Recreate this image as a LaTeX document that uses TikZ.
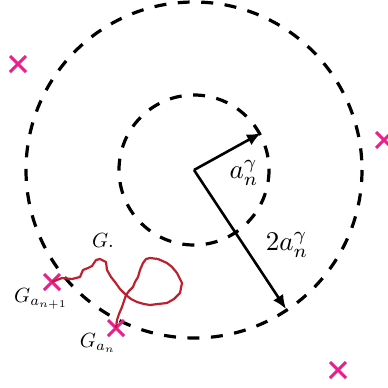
\documentclass[tikz,border=0pt]{standalone}
\usepackage{amsmath}
\usepackage{graphicx}
\usepackage{tikz}
\usetikzlibrary{arrows.meta,shapes.misc}
\definecolor{crossmag}{RGB}{232,32,140}
\definecolor{walkred}{RGB}{190,32,48}
\newcommand{\biglab}[1]{\scalebox{2.7}{#1}}
\newcommand{\glab}[1]{\scalebox{2.05}{#1}}

\begin{document}
\begin{tikzpicture}[
  x=1pt, y=-1pt,
  ring/.style={draw=black, line width=3.2pt, dash pattern=on 12pt off 11.5pt},
  rad/.style={-{Latex[length=14pt,width=12pt]}, line width=2.6pt},
  xmark/.style={cross out, draw=crossmag, line width=3pt, minimum size=13pt, inner sep=0pt},
  walk/.style={draw=walkred, line width=2.2pt, line join=round},
]
\useasboundingbox (0,0) rectangle (388,388);

\coordinate (c) at (194,170);
\draw[ring] (c) circle (75);
\draw[ring] (c) circle (168);

% radii
\coordinate (p1) at (261,133);
\coordinate (p2) at (286,309);
\draw[rad] (c) -- (p1);
\draw[rad] (c) -- (p2);
\node (r1) at (244,173) {\biglab{$a_n^\gamma$}};
\node (r2) at (287,245) {\biglab{$2a_n^\gamma$}};

% points
\node[xmark] (x1) at (18,64) {};
\node[xmark] (x2) at (384,140) {};
\node[xmark] (x3) at (52,282) {};
\node[xmark] (x4) at (116,328) {};
\node[xmark] (x5) at (338,370) {};

% the walk
\draw[walk] (x3.center) -- (62,278) -- (72,279) -- (80,277) -- (83,270) -- (88,268)
  -- (92,266) -- (96,260) -- (100,259) -- (106,262) -- (107,270) -- (111,277)
  -- (115,282) -- (120,289) -- (126,295) -- (131,299) -- (137,302) -- (144,304)
  -- (150,305) -- (158,304) -- (167,303) -- (174,299) -- (180,293) -- (181,288)
  -- (182,283) -- (179,277) -- (177,273) -- (172,267) -- (167,263) -- (158,259)
  -- (150,258) -- (146,259) -- (143,263) -- (140,270) -- (138,277) -- (135,282)
  -- (133,287) -- (129,291) -- (126,295) -- (124,301) -- (122,307) -- (119,314)
  -- (117,320) -- (x4.center);

\node (g) at (103,240) {\glab{$G.$}};
\node (g1) at (41,299) {\glab{$G_{a_{n+1}}$}};
\node (g2) at (98,343) {\glab{$G_{a_n}$}};
\end{tikzpicture}
\end{document}
